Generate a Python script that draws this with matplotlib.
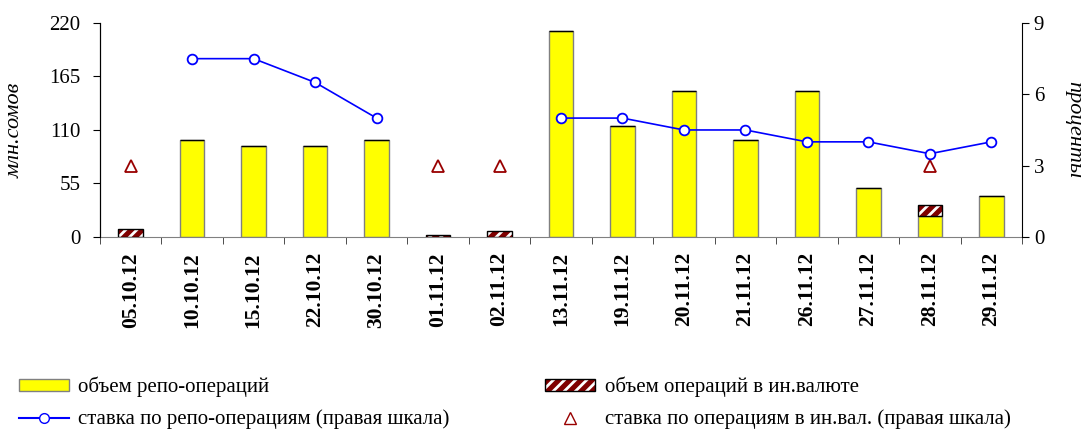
import numpy as np
import matplotlib
matplotlib.use("Agg")
import matplotlib.pyplot as plt
from matplotlib.patches import Patch
from matplotlib.lines import Line2D
from matplotlib.legend_handler import HandlerTuple

dates = ["05.10.12", "10.10.12", "15.10.12", "22.10.12", "30.10.12", "01.11.12",
         "02.11.12", "13.11.12", "19.11.12", "20.11.12", "21.11.12", "26.11.12",
         "27.11.12", "28.11.12", "29.11.12"]
repo_volume = [0, 100, 94, 94, 100, 0, 0, 212, 114, 150, 100, 150, 50, 22, 42]
fx_volume = [8, 0, 0, 0, 0, 2, 6, 0, 0, 0, 0, 0, 0, 10.5, 0]
repo_rate = [np.nan, 7.5, 7.5, 6.5, 5.0, np.nan, np.nan, 5.0, 5.0, 4.5, 4.5, 4.0, 4.0, 3.5, 4.0]
fx_rate = [3, np.nan, np.nan, np.nan, np.nan, 3, 3, np.nan, np.nan, np.nan, np.nan, np.nan, np.nan, 3, np.nan]

plt.rcParams['font.family'] = ['Liberation Serif', 'DejaVu Serif']
plt.rcParams['hatch.linewidth'] = 2.0

fig = plt.figure(figsize=(10.83, 4.30), dpi=100)
ax = fig.add_axes([0.0923, 0.449, 0.8514, 0.4975])
ax2 = ax.twinx()

x = np.arange(len(dates))
w = 0.4
ax.bar(x, repo_volume, w, color='#ffff00', edgecolor='#808080', linewidth=1, zorder=2)
ax.bar(x, fx_volume, w, bottom=repo_volume, color='#800000', edgecolor='white',
       hatch='///', linewidth=0, zorder=3)
ax.bar(x, fx_volume, w, bottom=repo_volume, color='none', edgecolor='black',
       linewidth=1, zorder=4)

ax2.plot(x, repo_rate, color='#0000ff', lw=1.2, marker='o', ms=7,
         mfc='white', mec='#0000ff', mew=1.3, zorder=5)
ax2.plot(x, fx_rate, ls='none', marker='^', ms=8, mfc='none', mec='#990000', mew=1.3)

ax.set_xlim(-0.5, len(dates) - 0.5)
ax.set_ylim(0, 220)
ax.set_yticks([0, 55, 110, 165, 220])
ax2.set_ylim(0, 9)
ax2.set_yticks([0, 3, 6, 9])

ax.set_xticks(x)
ax.set_xticklabels(dates, rotation=90, fontweight='bold', fontsize=15.5)
ax.set_xticks(np.arange(-0.5, len(dates)), minor=True)
ax.tick_params(axis='x', which='major', length=0, pad=11)
ax.tick_params(axis='x', which='minor', length=5, color='#303030')
ax.tick_params(axis='y', labelsize=15, length=5, pad=9)
ax2.tick_params(axis='y', labelsize=15, length=5)

for a in (ax, ax2):
    a.spines['top'].set_visible(False)
ax.spines['bottom'].set_color('#808080')
ax2.spines['bottom'].set_visible(False)
ax.spines['right'].set_visible(False)

ax.set_ylabel('млн.сомов', fontstyle='italic', fontsize=16, labelpad=18)
ax2.set_ylabel('проценты', fontstyle='italic', fontsize=16, rotation=270, labelpad=28)

h_repo = Patch(facecolor='#ffff00', edgecolor='#808080')
h_fx = (Patch(facecolor='#800000', edgecolor='white', hatch='///', linewidth=0),
        Patch(facecolor='none', edgecolor='black'))
h_rate = Line2D([], [], color='#0000ff', marker='o', ms=7, mfc='white', mec='#0000ff')
h_fxr = Line2D([], [], ls='none', marker='^', ms=8, mfc='none', mec='#990000')
fig.legend([h_repo, h_rate, h_fx, h_fxr],
           ['объем репо-операций', 'ставка по репо-операциям (правая шкала)',
            'объем операций в ин.валюте', 'ставка по операциям в ин.вал. (правая шкала)'],
           handler_map={tuple: HandlerTuple(ndivide=1)},
           ncol=2, loc='lower left', bbox_to_anchor=(0.0, -0.042), frameon=False,
           fontsize=15, columnspacing=4.6, handlelength=2.4, handleheight=0.5,
           handletextpad=0.45, labelspacing=0.6)

fig.savefig('out.png', dpi=100)
